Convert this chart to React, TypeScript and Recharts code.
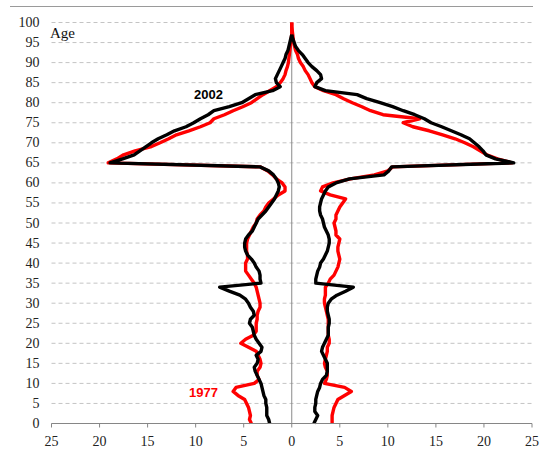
import { LineChart, Line, XAxis, YAxis, CartesianGrid, ReferenceLine } from 'recharts';

// single years of age
const AGES = [
  0, 1, 2, 3, 4, 5, 6, 7, 8, 9, 10, 11, 12, 13, 14, 15, 16, 17, 18, 19,
  20, 21, 22, 23, 24, 25, 26, 27, 28, 29, 30, 31, 32, 33, 34, 35, 36, 37, 38, 39,
  40, 41, 42, 43, 44, 45, 46, 47, 48, 49, 50, 51, 52, 53, 54, 55, 56, 57, 58, 59,
  60, 61, 62, 63, 64, 65, 66, 67, 68, 69, 70, 71, 72, 73, 74, 75, 76, 77, 78, 79,
  80, 81, 82, 83, 84, 85, 86, 87, 88, 89, 90, 91, 92, 93, 94, 95, 96, 97, 98, 99, 100,
];

// left half (drawn to the left of 0)
const LEFT_1977 = [
  4.2, 4.4, 4.3, 4.4, 4.5, 4.7, 4.9, 5.6, 6.1, 5.8,
  3.9, 3.4, 3.6, 3.6, 3.3, 3.2, 3.3, 3.5, 3.7, 4.5,
  5.3, 4.8, 4.0, 3.7, 3.7, 3.7, 3.6, 3.6, 3.5, 3.3,
  3.3, 3.4, 3.5, 3.6, 3.7, 3.9, 4.2, 4.5, 4.8, 4.8,
  4.8, 4.6, 4.6, 4.7, 4.7, 4.7, 4.6, 4.4, 4.2, 4.0,
  3.7, 3.6, 3.3, 2.9, 2.7, 2.4, 1.9, 1.4, 0.7, 0.7,
  1.0, 1.6, 2.0, 2.5, 3.3, 19.1, 18.2, 17.5, 16.3, 14.7,
  13.7, 12.8, 12.0, 10.7, 9.5, 8.5, 8.1, 7.0, 6.1, 5.1,
  4.2, 3.6, 3.0, 2.3, 1.6, 1.2, 0.9, 0.7, 0.6, 0.45,
  0.35, 0.3, 0.25, 0.2, 0.15, 0.1, 0.05, 0, 0, 0, 0,
];

const LEFT_2002 = [
  2.3, 2.4, 2.6, 2.6, 2.6, 2.7, 2.7, 2.9, 3.0, 3.1,
  3.2, 3.4, 3.6, 3.8, 3.9, 3.6, 3.5, 3.7, 3.2, 3.1,
  3.4, 3.7, 3.9, 4.0, 4.1, 4.4, 4.3, 3.9, 4.0, 4.3,
  4.5, 4.8, 5.4, 6.5, 7.5, 3.2, 3.3, 3.3, 3.4, 3.7,
  3.9, 4.2, 4.6, 4.8, 4.9, 4.9, 4.8, 4.5, 4.1, 3.9,
  3.7, 3.5, 3.1, 2.7, 2.4, 2.1, 1.8, 1.6, 1.4, 1.3,
  1.4, 1.6, 1.9, 2.4, 3.3, 18.9, 17.6, 16.4, 15.8, 15.2,
  14.6, 13.9, 13.0, 12.2, 11.0, 10.2, 9.5, 8.7, 8.1, 6.5,
  5.2, 4.5, 3.8, 2.0, 1.2, 1.6, 1.7, 1.5, 1.3, 1.1,
  0.9, 0.7, 0.6, 0.4, 0.3, 0.2, 0.1, 0, null, null, null,
];

// right half
const RIGHT_1977 = [
  4.2, 4.2, 4.2, 4.3, 4.4, 4.6, 4.8, 5.5, 6.2, 5.5,
  3.4, 3.6, 3.7, 3.7, 3.5, 3.4, 3.5, 3.6, 3.7, 3.7,
  3.9, 3.9, 3.8, 3.8, 3.8, 3.8, 3.8, 3.7, 3.6, 3.5,
  3.4, 3.4, 3.5, 3.5, 3.5, 3.8, 4.0, 4.4, 4.6, 4.8,
  4.9, 5.0, 4.9, 4.8, 4.8, 4.9, 5.0, 4.6, 4.6, 4.5,
  4.4, 4.6, 4.6, 4.8, 5.0, 5.3, 5.6, 4.0, 3.0, 3.2,
  4.3, 6.1, 8.6, 10.0, 10.5, 22.9, 21.4, 20.3, 19.6, 18.9,
  18.0, 17.0, 15.7, 14.3, 12.6, 11.6, 13.3, 9.5, 8.2, 7.3,
  6.3, 5.4, 4.6, 3.3, 2.4, 2.1, 1.9, 1.7, 1.4, 1.2,
  0.9, 0.7, 0.6, 0.4, 0.3, 0.2, 0.15, 0.1, 0.05, 0, 0,
];

const RIGHT_2002 = [
  2.3, 2.5, 2.7, 2.4, 2.4, 2.5, 2.5, 2.6, 2.7, 2.9,
  3.0, 3.2, 3.6, 3.7, 3.7, 3.7, 3.5, 3.3, 3.1, 3.2,
  3.4, 3.6, 3.8, 3.8, 3.8, 3.9, 3.9, 3.8, 3.7, 3.7,
  3.8, 4.1, 4.7, 5.6, 6.4, 2.5, 2.5, 2.6, 2.7, 2.9,
  3.0, 3.3, 3.5, 3.7, 3.8, 3.9, 3.9, 3.8, 3.6, 3.4,
  3.3, 3.2, 3.0, 2.9, 2.9, 3.0, 3.1, 3.3, 3.5, 3.8,
  4.6, 6.0, 9.6, 10.1, 10.4, 23.1, 21.2, 20.2, 19.9, 19.5,
  19.0, 18.5, 17.6, 16.6, 15.6, 14.5, 13.8, 12.8, 11.6, 10.5,
  9.2, 7.8, 6.8, 3.5, 2.4, 2.6, 3.1, 3.0, 2.6, 2.1,
  1.7, 1.4, 1.1, 0.7, 0.4, 0.25, 0.1, 0, null, null, null,
];

const X_TICKS = [-25, -20, -15, -10, -5, 0, 5, 10, 15, 20, 25];
const Y_TICKS = [0, 5, 10, 15, 20, 25, 30, 35, 40, 45, 50, 55, 60, 65, 70, 75, 80, 85, 90, 95, 100];

const neg = (v: number | null) => (v === null ? null : -v);

const data = AGES.map((age, i) => ({
  age,
  l1977: neg(LEFT_1977[i]),
  r1977: RIGHT_1977[i],
  l2002: neg(LEFT_2002[i]),
  r2002: RIGHT_2002[i],
}));

const serif = '"Times New Roman", "Liberation Serif", "DejaVu Serif", serif';
const sans = 'Arial, "Liberation Sans", sans-serif';

// axis labels drawn by hand so the serif face sticks
const XTick = ({ x, y, payload }: any) => (
  <text x={x} y={y} dy={10} textAnchor="middle" fill="#222" fontFamily={serif} fontSize={14}>
    {Math.abs(payload.value)}
  </text>
);

const YTick = ({ x, y, payload }: any) => (
  <text x={x} y={y} dy={4.5} textAnchor="end" fill="#222" fontFamily={serif} fontSize={14}>
    {payload.value}
  </text>
);

export default function App() {
  return (
    <div
      style={{
        position: 'absolute',
        left: 0,
        top: 0,
        width: 543,
        height: 453,
        background: '#fff',
        overflow: 'hidden',
        fontFamily: serif,
      }}
    >
      {/* frame top edge */}
      <div style={{ position: 'absolute', left: 10, top: 6, width: 523, height: 1, background: '#9a9a9a' }} />

      <LineChart
        width={543}
        height={453}
        data={data}
        layout="vertical"
        margin={{ top: 22.5, right: 11, bottom: 0, left: 0 }}
      >
        <CartesianGrid horizontal vertical={false} stroke="#c4c4c4" strokeDasharray="4 3" />
        <XAxis
          type="number"
          domain={[-25, 25]}
          ticks={X_TICKS}
          interval={0}
          height={29.5}
          stroke="#868686"
          tickSize={4}
          tickMargin={8.5}
          tick={<XTick />}
        />
        <YAxis
          type="number"
          dataKey="age"
          domain={[0, 100]}
          ticks={Y_TICKS}
          interval={0}
          reversed
          width={51.5}
          axisLine={false}
          tickLine={false}
          tickSize={0}
          tickMargin={12}
          tick={<YTick />}
        />
        <ReferenceLine x={0} stroke="#8a8a8a" strokeWidth={1} />
        <Line dataKey="l1977" stroke="#ff0000" strokeWidth={3.4} dot={false} isAnimationActive={false} strokeLinejoin="round" />
        <Line dataKey="r1977" stroke="#ff0000" strokeWidth={3.4} dot={false} isAnimationActive={false} strokeLinejoin="round" />
        <Line dataKey="l2002" stroke="#000000" strokeWidth={3.4} dot={false} isAnimationActive={false} strokeLinejoin="round" />
        <Line dataKey="r2002" stroke="#000000" strokeWidth={3.4} dot={false} isAnimationActive={false} strokeLinejoin="round" />
      </LineChart>

      <div style={{ position: 'absolute', left: 50, top: 25, fontFamily: serif, fontSize: 15, color: '#111' }}>Age</div>
      <div style={{ position: 'absolute', left: 194, top: 87, fontFamily: sans, fontSize: 13, fontWeight: 'bold', color: '#000' }}>2002</div>
      <div style={{ position: 'absolute', left: 189, top: 385, fontFamily: sans, fontSize: 13, fontWeight: 'bold', color: '#ff0000' }}>1977</div>
    </div>
  );
}
